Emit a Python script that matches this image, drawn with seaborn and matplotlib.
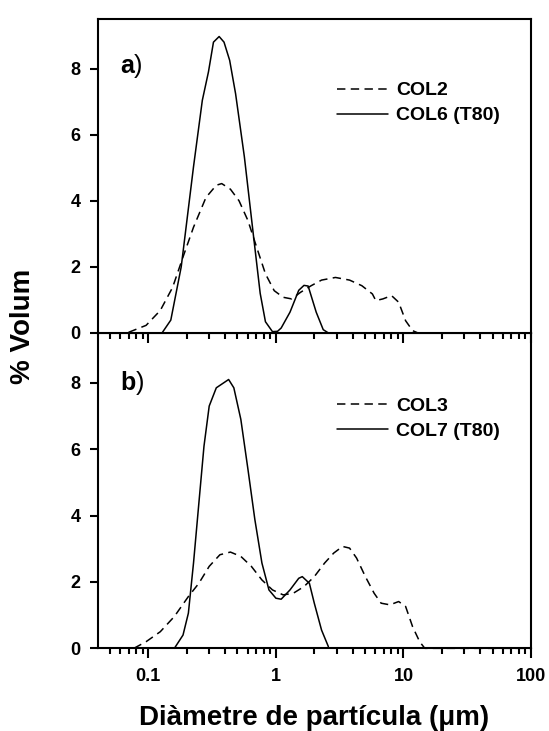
import numpy as np
import pandas as pd
import matplotlib
matplotlib.use("Agg")
import matplotlib.pyplot as plt
import matplotlib.ticker as mticker
import seaborn as sns

# Particle size distributions (diameter in µm, % volume)
col2_d = [0.070, 0.096, 0.124, 0.155, 0.187, 0.226, 0.283, 0.341, 0.376, 0.44, 0.514,
          0.604, 0.707, 0.828, 0.97, 1.14, 1.33, 1.56, 1.89, 2.28, 2.93, 3.78, 4.72,
          5.71, 6.07, 6.89, 8.07, 9.17, 10.4, 11.8, 13.0, 20.0, 60.0, 100.0]
col2_v = [0.02, 0.23, 0.68, 1.38, 2.3, 3.2, 4.1, 4.47, 4.52, 4.35, 4.0,
          3.4, 2.59, 1.79, 1.28, 1.08, 1.03, 1.23, 1.43, 1.6, 1.68, 1.6, 1.43,
          1.18, 0.98, 1.03, 1.13, 0.93, 0.37, 0.07, 0.0, 0.0, 0.0, 0.0]

col6_d = [0.128, 0.150, 0.181, 0.226, 0.265, 0.296, 0.324, 0.359, 0.392, 0.434, 0.483,
          0.566, 0.664, 0.753, 0.828, 0.94, 1.03, 1.1, 1.29, 1.51, 1.66, 1.79, 2.07,
          2.35, 2.58]
col6_v = [0.0, 0.39, 2.0, 5.03, 7.04, 7.9, 8.8, 8.97, 8.8, 8.25, 7.24,
          5.33, 3.01, 1.2, 0.34, 0.04, 0.05, 0.15, 0.63, 1.29, 1.44, 1.42, 0.63,
          0.1, 0.0]

col3_d = [0.077, 0.096, 0.124, 0.16, 0.206, 0.249, 0.30, 0.364, 0.44, 0.531, 0.642,
          0.777, 0.94, 1.14, 1.37, 1.66, 2.0, 2.41, 2.84, 3.33, 3.78, 4.29, 5.03,
          5.89, 6.68, 7.84, 9.17, 10.4, 11.8, 13.4, 14.7, 30.0, 100.0]
col3_v = [0.0, 0.2, 0.5, 0.96, 1.56, 1.96, 2.47, 2.82, 2.9, 2.77, 2.47,
          2.06, 1.76, 1.61, 1.66, 1.86, 2.16, 2.57, 2.87, 3.07, 3.02, 2.72, 2.16,
          1.66, 1.36, 1.31, 1.41, 1.26, 0.65, 0.2, 0.0, 0.0, 0.0]

col7_d = [0.160, 0.187, 0.206, 0.226, 0.249, 0.273, 0.30, 0.341, 0.426, 0.468, 0.531,
          0.604, 0.684, 0.777, 0.882, 1.0, 1.1, 1.29, 1.51, 1.61, 1.83, 2.0, 2.28,
          2.58]
col7_v = [0.0, 0.4, 1.06, 2.57, 4.38, 6.09, 7.3, 7.85, 8.1, 7.85, 6.9,
          5.39, 3.88, 2.57, 1.76, 1.51, 1.48, 1.76, 2.11, 2.16, 1.96, 1.36, 0.55,
          0.05]

x_ticks = [0.1, 1, 10, 100]
x_tick_labels = ["0.1", "1", "10", "100"]
y_ticks = [0, 2, 4, 6, 8]

panels = [
    ("a", ("COL2", col2_d, col2_v), ("COL6 (T80)", col6_d, col6_v)),
    ("b", ("COL3", col3_d, col3_v), ("COL7 (T80)", col7_d, col7_v)),
]

sns.set_style("ticks")
plt.rcParams.update({
    "font.family": ["Liberation Sans", "DejaVu Sans"],
    "font.weight": "bold",
    "text.color": "black",
    "axes.labelcolor": "black",
    "axes.edgecolor": "black",
    "axes.linewidth": 1.5,
    "axes.axisbelow": True,
    "figure.facecolor": "white",
    "savefig.facecolor": "white",
    "xtick.color": "black",
    "ytick.color": "black",
    "xtick.direction": "out",
    "ytick.direction": "out",
    "xtick.bottom": True,
    "xtick.top": False,
    "ytick.left": True,
    "ytick.right": False,
    "xtick.major.size": 7.5,
    "xtick.minor.size": 4,
    "xtick.major.width": 1.5,
    "xtick.minor.width": 1.5,
    "ytick.major.size": 6,
    "ytick.major.width": 1.5,
    "xtick.major.pad": 7,
    "ytick.major.pad": 6.5,
    "xtick.labelsize": 13,
    "ytick.labelsize": 13,
})

fig = plt.figure(figsize=(5.49, 7.31), dpi=100)
left, width = 98 / 549, 433 / 549
# lower panel first so the upper panel's outward x ticks are drawn on top of it
ax_b = fig.add_axes([left, 0.1131, width, 0.4313])
ax_a = fig.add_axes([left, 0.5445, width, 0.4295])
ax_b.patch.set_alpha(0)

dash = (0, (5.5, 3.5))
legend_y = [0.732, 0.729]
tag_y = [0.827, 0.82]

for i, (ax, (tag, dashed, solid)) in enumerate(zip([ax_a, ax_b], panels)):
    df_dash = pd.DataFrame({"d": dashed[1], "v": dashed[2]})
    df_solid = pd.DataFrame({"d": solid[1], "v": solid[2]})
    # every curve stays inside the axis limits, so no clipping is needed
    sns.lineplot(data=df_dash, x="d", y="v", ax=ax, color="black",
                 linewidth=1.1, linestyle=dash, label=dashed[0], clip_on=False)
    sns.lineplot(data=df_solid, x="d", y="v", ax=ax, color="black",
                 linewidth=1.1, label=solid[0], clip_on=False)

    ax.set_xscale("log")
    ax.set_xlim(0.0403, 100)
    ax.set_ylim(0, 9.5)
    ax.set_xlabel("")
    ax.set_ylabel("")
    ax.set_yticks(y_ticks)
    ax.set_xticks(x_ticks)
    ax.xaxis.set_minor_locator(mticker.LogLocator(base=10, subs=np.arange(2, 10)))
    ax.xaxis.set_minor_formatter(mticker.NullFormatter())
    if i == 1:
        ax.set_xticklabels(x_tick_labels)
    else:
        ax.xaxis.set_major_formatter(mticker.NullFormatter())
    ax.tick_params(axis="both", which="both", direction="out", colors="black")

    handles, labels = ax.get_legend_handles_labels()
    ax.legend(handles, labels, frameon=False, loc="center left",
              bbox_to_anchor=(0.553, legend_y[i]), borderpad=0, borderaxespad=0,
              handlelength=2.6, handletextpad=0.4, labelspacing=0.38,
              prop={"size": 14, "weight": "bold"})

    t = ax.text(0.051, tag_y[i], tag, transform=ax.transAxes, fontsize=18,
                fontweight="bold", ha="left", va="baseline")
    ax.annotate(")", xy=(1, 0), xycoords=t, fontsize=18, fontweight="normal",
                ha="left", va="bottom")

for ax in (ax_a, ax_b):
    for axis in (ax.xaxis, ax.yaxis):
        for tick in axis.get_major_ticks() + axis.get_minor_ticks():
            tick.tick1line.set_clip_on(False)

fig.text(0.042, 0.553, "% Volum", rotation=90, fontsize=20, fontweight="bold",
         ha="center", va="center")
fig.text(0.572, 0.0082, "Diàmetre de partícula (μm)", fontsize=20,
         fontweight="bold", ha="center", va="baseline")

fig.savefig("out.png", dpi=100)
